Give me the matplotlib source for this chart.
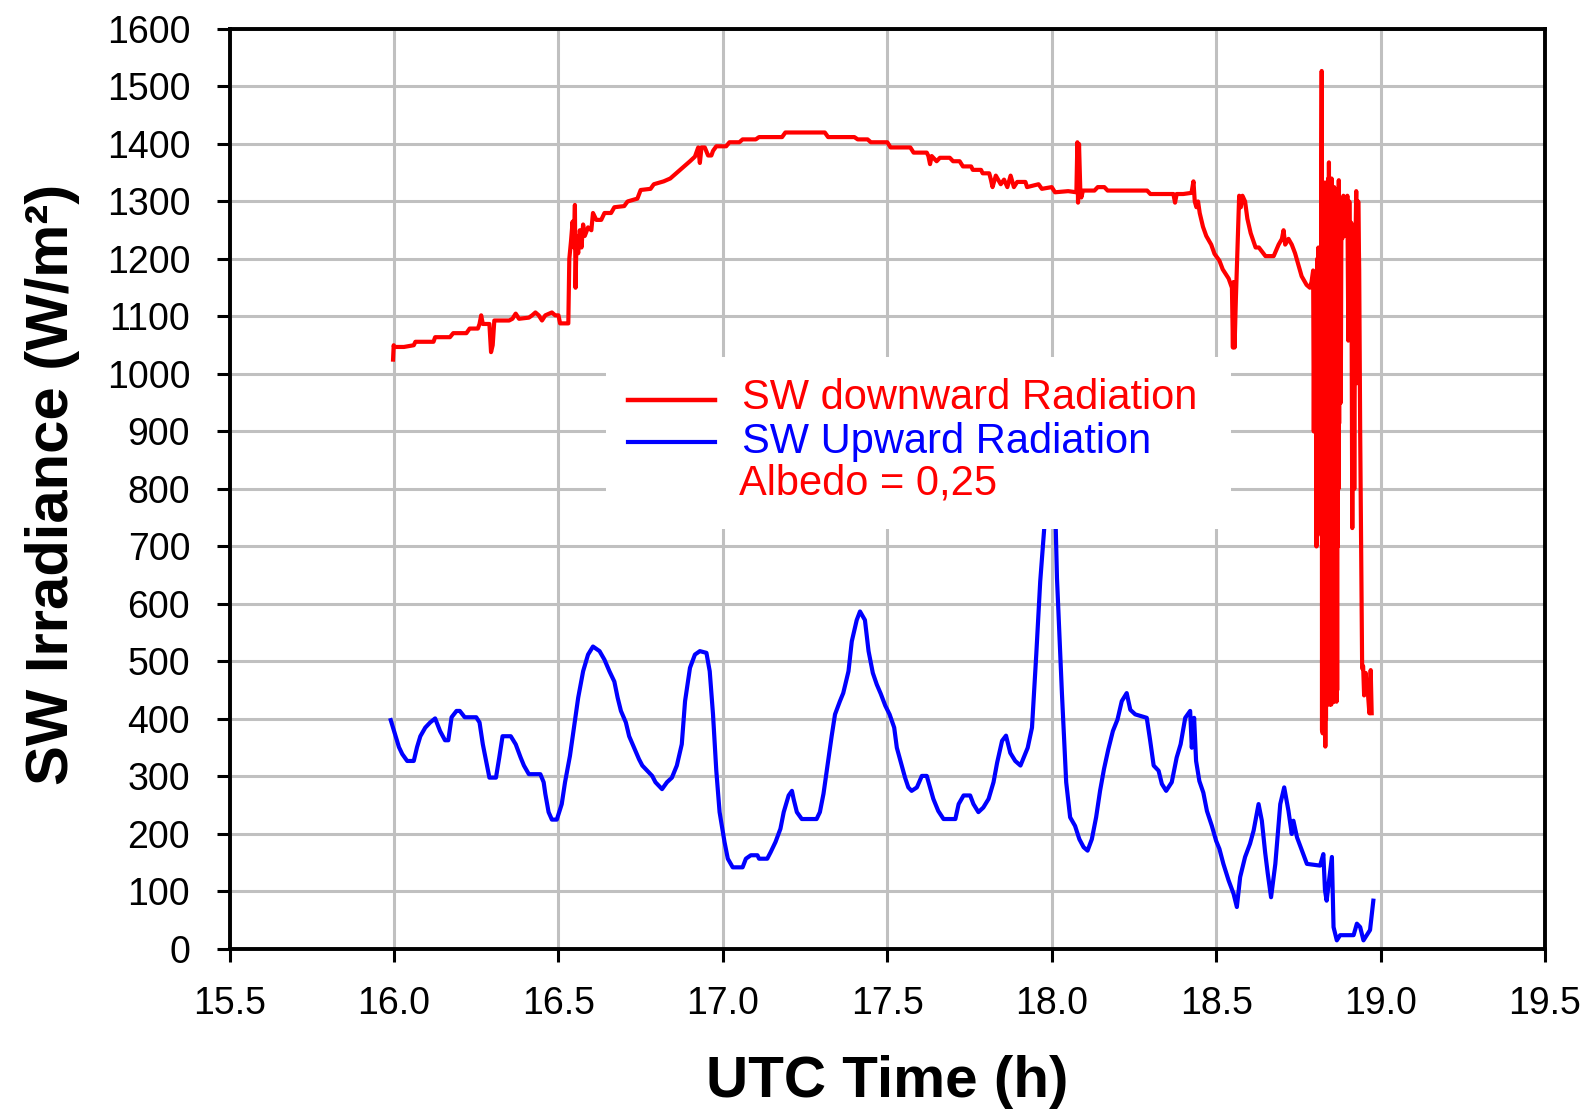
import matplotlib.pyplot as plt
from matplotlib.patches import Rectangle

plt.rcParams['font.family'] = ['Liberation Sans', 'DejaVu Sans']

# SW downward radiation (red)
red_t = [15.997, 15.999, 16.00, 16.03, 16.06, 16.065, 16.12, 16.125, 16.17, 16.18,
         16.22, 16.23, 16.255, 16.26, 16.265, 16.27, 16.29, 16.295, 16.30, 16.305,
         16.35, 16.36, 16.37, 16.38, 16.41, 16.42, 16.43, 16.44, 16.45, 16.46,
         16.48, 16.49, 16.50, 16.505, 16.53, 16.533, 16.538, 16.543, 16.547, 16.55,
         16.552, 16.555, 16.56, 16.565, 16.57, 16.575, 16.58, 16.59, 16.60, 16.605,
         16.615, 16.63, 16.64, 16.66, 16.67, 16.70, 16.71, 16.74, 16.75, 16.78,
         16.79, 16.82, 16.84, 16.86, 16.88, 16.90, 16.915, 16.925, 16.93, 16.935,
         16.945, 16.955, 16.965, 16.97, 16.98, 17.01, 17.02, 17.05, 17.06, 17.10,
         17.11, 17.18, 17.19, 17.31, 17.32, 17.40, 17.41, 17.44, 17.45, 17.50,
         17.51, 17.57, 17.58, 17.62, 17.625, 17.63, 17.635, 17.65, 17.66, 17.69,
         17.70, 17.72, 17.73, 17.755, 17.76, 17.785, 17.79, 17.81, 17.815, 17.82,
         17.83, 17.845, 17.855, 17.865, 17.875, 17.885, 17.895, 17.92, 17.925, 17.96,
         17.97, 18.00, 18.01, 18.05, 18.075, 18.078, 18.08, 18.083, 18.087, 18.09,
         18.095, 18.13, 18.14, 18.16, 18.17, 18.29, 18.30, 18.37, 18.375, 18.38,
         18.40, 18.425, 18.431, 18.435, 18.44, 18.445, 18.45, 18.46, 18.47, 18.485,
         18.495, 18.51, 18.52, 18.538, 18.548, 18.551, 18.553, 18.556, 18.56, 18.565,
         18.570, 18.575, 18.58, 18.588, 18.595, 18.605, 18.62, 18.63, 18.65, 18.675,
         18.69, 18.70, 18.705, 18.71, 18.72, 18.73, 18.74, 18.75, 18.76, 18.775,
         18.785, 18.790, 18.795, 18.797, 18.799, 18.801, 18.803, 18.805, 18.807, 18.809,
         18.811, 18.813, 18.815, 18.817, 18.819, 18.821, 18.822, 18.823, 18.824, 18.825,
         18.826, 18.827, 18.828, 18.829, 18.830, 18.831, 18.832, 18.833, 18.834, 18.835,
         18.836, 18.837, 18.838, 18.839, 18.840, 18.841, 18.842, 18.843, 18.844, 18.845,
         18.846, 18.847, 18.848, 18.849, 18.850, 18.851, 18.852, 18.853, 18.854, 18.855,
         18.856, 18.857, 18.858, 18.859, 18.860, 18.861, 18.862, 18.863, 18.864, 18.865,
         18.866, 18.867, 18.868, 18.869, 18.870, 18.871, 18.872, 18.873, 18.874, 18.875,
         18.877, 18.879, 18.881, 18.884, 18.887, 18.890, 18.893, 18.896, 18.899, 18.902,
         18.905, 18.908, 18.911, 18.914, 18.917, 18.920, 18.923, 18.926, 18.929, 18.932,
         18.935, 18.938, 18.941, 18.944, 18.947, 18.950, 18.955, 18.958, 18.962, 18.966,
         18.970, 18.973]
red_v = [1025, 1050, 1047, 1047, 1050, 1056, 1056, 1064, 1064, 1071,
         1071, 1079, 1079, 1087, 1102, 1087, 1087, 1038, 1050, 1093,
         1093, 1096, 1105, 1096, 1098, 1102, 1107, 1102, 1093, 1102,
         1107, 1102, 1102, 1088, 1088, 1200, 1230, 1265, 1220, 1294,
         1150, 1240, 1210, 1250, 1220, 1260, 1240, 1255, 1250, 1280,
         1268, 1268, 1280, 1280, 1290, 1292, 1300, 1305, 1320, 1322,
         1330, 1335, 1340, 1350, 1360, 1370, 1378, 1394, 1367, 1394,
         1394, 1380, 1380, 1388, 1396, 1396, 1403, 1403, 1408, 1408,
         1412, 1412, 1420, 1420, 1412, 1412, 1408, 1408, 1403, 1403,
         1394, 1394, 1385, 1385, 1379, 1365, 1379, 1370, 1376, 1376,
         1370, 1370, 1361, 1361, 1355, 1355, 1349, 1349, 1338, 1325,
         1345, 1330, 1338, 1325, 1345, 1325, 1334, 1334, 1325, 1330,
         1322, 1325, 1316, 1318, 1316, 1403, 1298, 1400, 1318, 1307,
         1319, 1319, 1325, 1325, 1319, 1319, 1313, 1313, 1298, 1313,
         1313, 1315, 1335, 1300, 1290, 1300, 1280, 1256, 1240, 1225,
         1209, 1197, 1182, 1166, 1150, 1046, 1160, 1046, 1130, 1220,
         1310, 1290, 1310, 1300, 1270, 1245, 1220, 1220, 1205, 1205,
         1225, 1235, 1250, 1225, 1235, 1225, 1210, 1190, 1170, 1155,
         1150, 1160, 1180, 900, 1170, 950, 1100, 700, 1200, 720,
         1220, 900, 1200, 1000, 1150, 1527, 380, 1330, 375, 1300,
         420, 1280, 500, 1300, 380, 1333, 352, 1300, 400, 1250,
         430, 1290, 440, 1300, 425, 1340, 430, 1368, 430, 1300,
         425, 1320, 430, 1280, 425, 1340, 440, 1300, 450, 1320,
         430, 1300, 430, 1325, 460, 1300, 500, 1280, 440, 1310,
         430, 1300, 450, 1310, 700, 1320, 800, 1337, 914, 1300,
         1300, 950, 1280, 1236, 1310, 1250, 1290, 1240, 1310, 1058,
         1300, 1100, 1263, 732, 1250, 800, 1200, 1318, 984, 1300,
         1182, 900, 700, 488, 492, 441, 480, 450, 441, 410,
         485, 410]

# SW upward radiation (blue)
blue_t = [15.99, 16.005, 16.015, 16.025, 16.04, 16.06, 16.07, 16.08, 16.095, 16.11,
          16.125, 16.14, 16.155, 16.165, 16.175, 16.19, 16.20, 16.215, 16.25, 16.26,
          16.27, 16.28, 16.29, 16.31, 16.32, 16.33, 16.355, 16.37, 16.385, 16.395,
          16.41, 16.445, 16.455, 16.46, 16.47, 16.48, 16.495, 16.51, 16.52, 16.535,
          16.55, 16.56, 16.575, 16.59, 16.605, 16.625, 16.64, 16.655, 16.67, 16.68,
          16.69, 16.705, 16.715, 16.73, 16.745, 16.755, 16.77, 16.785, 16.795, 16.815,
          16.83, 16.845, 16.86, 16.875, 16.885, 16.90, 16.915, 16.93, 16.95, 16.96,
          16.97, 16.98, 16.99, 17.005, 17.015, 17.03, 17.06, 17.07, 17.085, 17.105,
          17.11, 17.135, 17.145, 17.16, 17.175, 17.185, 17.20, 17.21, 17.215, 17.225,
          17.24, 17.285, 17.295, 17.306, 17.316, 17.331, 17.341, 17.356, 17.366, 17.382,
          17.392, 17.407, 17.417, 17.432, 17.443, 17.456, 17.468, 17.480, 17.494, 17.507,
          17.521, 17.529, 17.544, 17.554, 17.564, 17.574, 17.590, 17.605, 17.620, 17.630,
          17.640, 17.655, 17.671, 17.707, 17.717, 17.732, 17.752, 17.762, 17.777, 17.792,
          17.808, 17.823, 17.834, 17.849, 17.861, 17.874, 17.889, 17.905, 17.915, 17.927,
          17.940, 17.953, 17.965, 17.981, 18.011, 18.016, 18.031, 18.044, 18.056, 18.071,
          18.084, 18.097, 18.109, 18.122, 18.135, 18.147, 18.159, 18.172, 18.186, 18.200,
          18.213, 18.228, 18.239, 18.254, 18.289, 18.299, 18.310, 18.325, 18.335, 18.348,
          18.365, 18.380, 18.392, 18.406, 18.421, 18.426, 18.433, 18.439, 18.449, 18.461,
          18.472, 18.487, 18.500, 18.510, 18.522, 18.538, 18.553, 18.563, 18.573, 18.588,
          18.603, 18.614, 18.629, 18.639, 18.649, 18.657, 18.667, 18.680, 18.695, 18.707,
          18.720, 18.730, 18.735, 18.746, 18.761, 18.776, 18.816, 18.826, 18.831, 18.836,
          18.852, 18.857, 18.867, 18.877, 18.918, 18.928, 18.938, 18.948, 18.968, 18.978]
blue_v = [398, 370, 351, 339, 327, 327, 351, 370, 385, 394,
          401, 379, 363, 363, 403, 414, 414, 403, 403, 394,
          356, 327, 298, 298, 333, 370, 370, 356, 333, 319,
          304, 304, 290, 270, 238, 225, 225, 252, 290, 336,
          396, 437, 483, 512, 526, 518, 503, 483, 465, 437,
          414, 394, 370, 350, 330, 319, 310, 301, 290, 278,
          290, 298, 319, 356, 431, 489, 512, 518, 515, 483,
          408, 310, 238, 186, 157, 142, 142, 157, 163, 163,
          157, 157, 168, 186, 209, 238, 267, 275, 261, 238,
          226, 226, 238, 270, 310, 371, 408, 431, 445, 483,
          535, 572, 587, 572, 518, 480, 460, 444, 423, 408,
          385, 350, 319, 298, 281, 275, 281, 301, 301, 281,
          261, 240, 226, 226, 252, 267, 267, 252, 238, 246,
          261, 290, 324, 362, 371, 341, 327, 319, 333, 350,
          385, 512, 639, 760, 760, 645, 445, 290, 229, 214,
          191, 177, 171, 191, 229, 275, 313, 347, 379, 399,
          431, 445, 416, 408, 402, 364, 319, 310, 287, 275,
          290, 333, 356, 402, 414, 350, 402, 327, 292, 272,
          240, 214, 188, 174, 148, 119, 96, 73, 125, 160,
          183, 206, 252, 223, 168, 131, 90, 148, 252, 281,
          240, 200, 223, 194, 171, 148, 145, 165, 102, 84,
          160, 38, 15, 24, 24, 44, 38, 15, 33, 84]

x_ticks = [15.5, 16.0, 16.5, 17.0, 17.5, 18.0, 18.5, 19.0, 19.5]
y_ticks = list(range(0, 1700, 100))

fig = plt.figure(figsize=(15.89, 11.15), dpi=100)
ax = fig.add_axes([0.1445, 0.1489, 0.8278, 0.8251])

ax.plot(red_t, red_v, color='#ff0000', linewidth=3.0, zorder=3)
ax.plot(blue_t, blue_v, color='#0000ff', linewidth=3.0, zorder=3)

ax.set_xlim(15.5, 19.5)
ax.set_ylim(0, 1600)
ax.set_xticks(x_ticks)
ax.set_xticklabels([f'{v:.1f}' for v in x_ticks])
ax.set_yticks(y_ticks)

ax.grid(True, color='#c0c0c0', linewidth=2.2)
ax.set_axisbelow(True)
for s in ax.spines.values():
    s.set_linewidth(2.8)
    s.set_color('black')
ax.tick_params(axis='both', direction='out', length=9.4, width=2.2,
               labelsize=27)
ax.tick_params(axis='y', pad=19)
ax.tick_params(axis='x', pad=17)

ax.set_ylabel('SW Irradiance (W/m²)', fontsize=43, fontweight='bold',
              va='center')
ax.yaxis.set_label_coords(-0.1343, 0.505)
ax.set_xlabel('UTC Time (h)', fontsize=42, fontweight='bold', va='center')
ax.xaxis.set_label_coords(0.5, -0.1446)

# legend block (white box covering grid and the top of the upward peak)
ax.add_patch(Rectangle((0.2862, 0.4565), 0.4751, 0.187, transform=ax.transAxes,
                       facecolor='white', edgecolor='none', zorder=5))
ax.plot([0.3029, 0.3690], [0.5967, 0.5967], transform=ax.transAxes,
        color='#ff0000', linewidth=3.2, zorder=6)
ax.plot([0.3029, 0.3690], [0.5511, 0.5511], transform=ax.transAxes,
        color='#0000ff', linewidth=3.0, zorder=6)
ax.text(0.3895, 0.5989, 'SW downward Radiation', transform=ax.transAxes,
        color='#ff0000', fontsize=30, va='center', ha='left', zorder=6)
ax.text(0.3895, 0.5511, 'SW Upward Radiation', transform=ax.transAxes,
        color='#0000ff', fontsize=30, va='center', ha='left', zorder=6)
ax.text(0.3872, 0.5065, 'Albedo = 0,25', transform=ax.transAxes,
        color='#ff0000', fontsize=30, va='center', ha='left', zorder=6)

fig.savefig('out.png', dpi=100)
